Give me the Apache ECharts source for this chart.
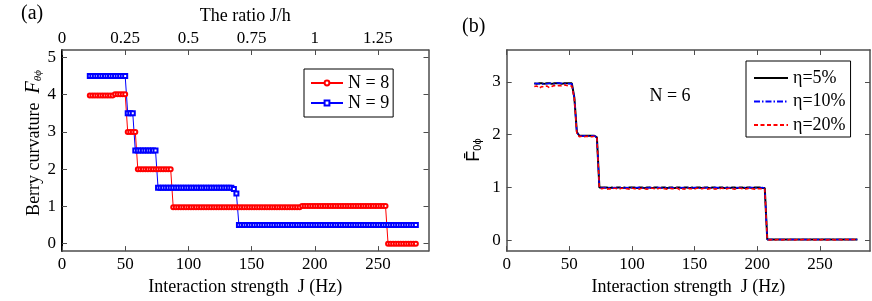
<!DOCTYPE html>
<html><head><meta charset="utf-8">
<script src="https://cdn.jsdelivr.net/npm/echarts@6/dist/echarts.min.js"></script>
<style>html,body{margin:0;padding:0;background:#fff}#c{width:872px;height:301px}</style>
</head><body><div id="c"></div>
<script>
// Interaction strength J (Hz) sampling grid
const jGrid = [22,24,26,28,30,32,34,36,38,40,
 42,44,46,48,50,52,54,56,58,60,
 62,64,66,68,70,72,74,76,78,80,
 82,84,86,88,90,92,94,96,98,100,
 102,104,106,108,110,112,114,116,118,120,
 122,124,126,128,130,132,134,136,138,140,
 142,144,146,148,150,152,154,156,158,160,
 162,164,166,168,170,172,174,176,178,180,
 182,184,186,188,190,192,194,196,198,200,
 202,204,206,208,210,212,214,216,218,220,
 222,224,226,228,230,232,234,236,238,240,
 242,244,246,248,250,252,254,256,258,260,
 262,264,266,268,270,272,274,276,278,280];

// (a) Berry curvature, N = 8
const berryN8 = [3.98,3.98,3.98,3.98,3.98,3.98,3.98,3.98,3.98,3.98,
 4.01,4.01,4.01,4.01,4.01,3,3,3,3,2,
 2,2,2,2,2,2,2,2,2,2,
 2,2,2,0.98,0.98,0.98,0.98,0.98,0.98,0.98,
 0.98,0.98,0.98,0.98,0.98,0.98,0.98,0.98,0.98,0.98,
 0.98,0.98,0.98,0.98,0.98,0.98,0.98,0.98,0.98,0.98,
 0.98,0.98,0.98,0.98,0.98,0.98,0.98,0.98,0.98,0.98,
 0.98,0.98,0.98,0.98,0.98,0.98,0.98,0.98,0.98,0.98,
 0.98,0.98,0.98,0.98,1.01,1.01,1.01,1.01,1.01,1.01,
 1.01,1.01,1.01,1.01,1.01,1.01,1.01,1.01,1.01,1.01,
 1.01,1.01,1.01,1.01,1.01,1.01,1.01,1.01,1.01,1.01,
 1.01,1.01,1.01,1.01,1.01,1.01,1.01,1.01,0,0,
 0,0,0,0,0,0,0,0,0,0];

// (a) Berry curvature, N = 9
const berryN9 = [4.5,4.5,4.5,4.5,4.5,4.5,4.5,4.5,4.5,4.5,
 4.5,4.5,4.5,4.5,4.5,3.5,3.5,3.5,2.5,2.5,
 2.5,2.5,2.5,2.5,2.5,2.5,2.5,1.5,1.5,1.5,
 1.5,1.5,1.5,1.5,1.5,1.5,1.5,1.5,1.5,1.5,
 1.5,1.5,1.5,1.5,1.5,1.5,1.5,1.5,1.5,1.5,
 1.5,1.5,1.5,1.5,1.5,1.5,1.5,1.47,1.35,0.5,
 0.5,0.5,0.5,0.5,0.5,0.5,0.5,0.5,0.5,0.5,
 0.5,0.5,0.5,0.5,0.5,0.5,0.5,0.5,0.5,0.5,
 0.5,0.5,0.5,0.5,0.5,0.5,0.5,0.5,0.5,0.5,
 0.5,0.5,0.5,0.5,0.5,0.5,0.5,0.5,0.5,0.5,
 0.5,0.5,0.5,0.5,0.5,0.5,0.5,0.5,0.5,0.5,
 0.5,0.5,0.5,0.5,0.5,0.5,0.5,0.5,0.5,0.5,
 0.5,0.5,0.5,0.5,0.5,0.5,0.5,0.5,0.5,0.5];

// (b) averaged curvature, N = 6, eta = 5%
const fEta5 = [2.97,2.96,2.97,2.97,2.96,2.97,2.97,2.96,2.97,2.97,
 2.97,2.96,2.97,2.97,2.97,2.97,2.7,2.05,1.98,1.98,
 1.98,1.98,1.98,1.98,1.98,1.95,1,1,1,1,
 0.99,1,0.99,1,1,0.99,1,0.99,1,1,
 1,0.99,1,1,0.99,1,1,0.99,1,1,
 0.99,1,1,0.99,1,1,0.99,1,1,0.99,
 1,1,0.99,1,0.99,1,1,0.99,1,1,
 0.99,1,1,0.99,1,1,0.99,1,0.99,1,
 1,0.99,1,1,0.99,1,1,0.99,1,1,
 1,0.99,0.99,0.02,0.02,0.02,0.02,0.02,0.02,0.02,
 0.02,0.02,0.02,0.02,0.02,0.02,0.02,0.02,0.02,0.02,
 0.02,0.02,0.02,0.02,0.02,0.02,0.02,0.02,0.02,0.02,
 0.02,0.02,0.02,0.02,0.02,0.02,0.02,0.02,0.02,0.02];

// (b) eta = 10%
const fEta10 = [2.96,2.97,2.96,2.95,2.97,2.96,2.97,2.97,2.96,2.98,
 2.97,2.97,2.96,2.97,2.96,2.96,2.69,2.04,1.98,1.97,
 1.98,1.98,1.97,1.98,1.98,1.94,1,0.99,1,0.99,
 1,0.99,1,0.99,1,1,0.99,1,0.99,1,
 0.99,1,1,0.99,1,0.99,1,1,0.99,1,
 1,0.99,1,1,0.99,1,0.99,1,0.99,1,
 0.99,1,1,0.99,1,1,0.99,1,0.99,1,
 1,0.99,1,1,0.99,1,1,0.99,1,0.99,
 0.99,1,0.99,1,1,0.99,1,1,0.99,1,
 0.99,1,0.99,0.02,0.02,0.02,0.02,0.02,0.02,0.02,
 0.02,0.02,0.02,0.02,0.02,0.02,0.02,0.02,0.02,0.02,
 0.02,0.02,0.02,0.02,0.02,0.02,0.02,0.02,0.02,0.02,
 0.02,0.02,0.02,0.02,0.02,0.02,0.02,0.02,0.02,0.02];

// (b) eta = 20%
const fEta20 = [2.91,2.92,2.88,2.91,2.9,2.92,2.89,2.91,2.93,2.92,
 2.93,2.92,2.94,2.93,2.92,2.92,2.68,2.02,1.96,1.97,
 1.96,1.97,1.96,1.96,1.97,1.94,0.99,0.98,0.99,0.97,
 0.98,0.97,0.99,0.98,0.97,0.99,0.98,0.98,0.97,0.99,
 0.98,0.98,0.97,0.99,0.98,0.97,0.98,0.99,0.98,0.97,
 0.99,0.98,0.98,0.97,0.99,0.98,0.98,0.99,0.96,0.98,
 0.97,0.99,0.98,0.98,0.97,0.99,0.98,0.98,0.99,0.97,
 0.98,0.99,0.97,0.98,0.98,0.99,0.97,0.98,0.99,0.98,
 0.97,0.98,0.99,0.98,0.97,0.98,0.99,0.98,0.97,0.98,
 0.98,0.98,0.97,0.02,0.01,0.02,0.01,0.02,0.02,0.01,
 0.02,0.01,0.02,0.02,0.01,0.02,0.01,0.02,0.02,0.01,
 0.02,0.02,0.01,0.02,0.01,0.02,0.02,0.01,0.02,0.02,
 0.01,0.02,0.02,0.01,0.02,0.02,0.01,0.02,0.02,0.01];

const xTicks = [0,50,100,150,200,250];
const ratioTicks = [0,0.25,0.5,0.75,1,1.25];
const ratioLabels = ['0','0.25','0.5','0.75','1','1.25'];
const yTicksA = [0,1,2,3,4,5];
const yTicksB = [0,1,2,3];
const legendA = ['N = 8','N = 9'];
const legendB = ['η=5%','η=10%','η=20%'];

const FONT = 'Liberation Serif';
const AX = '#4d4d4d';
const pairs = arr => jGrid.map((j,i)=>[j, arr[i]]);

function mkAxis(base, ticks, showLabel, extra) {
  const a = {
    type:'value', min: base.min, max: base.max, position: base.position,
    gridIndex: base.grid,
    splitLine:{show:false},
    axisLine:{show:true, onZero:false, lineStyle:{color: base.lineColor||AX, width: base.lineWidth||1.5}},
    axisTick:{show:true, inside:true, length:5, customValues: ticks, lineStyle:{color:AX, width:1}},
    axisLabel:{show: showLabel, customValues: ticks, color:'#000', fontFamily:FONT, fontSize:17, margin: base.margin||5},
  };
  return Object.assign(a, extra||{});
}
const nameStyle = {fontFamily:FONT, fontSize:18, color:'#000'};

const chart = echarts.init(document.getElementById('c'), null, {renderer:'canvas'});
chart.setOption({
  animation:false,
  backgroundColor:'#fff',
  textStyle:{fontFamily:FONT, color:'#000'},
  grid:[
    {left:62, top:50, width:366.5, height:202.7},
    {left:506.7, top:50, width:363.3, height:202.3}
  ],
  xAxis:[
    mkAxis({grid:0, min:0, max:290, position:'bottom', margin:5}, xTicks, true,
      {name:'Interaction strength  J (Hz)', nameLocation:'middle', nameGap:25, nameTextStyle:nameStyle}),
    mkAxis({grid:0, min:0, max:1.45, position:'top', margin:3}, ratioTicks, true,
      {name:'The ratio J/h', nameLocation:'middle', nameGap:25, nameTextStyle:nameStyle}),
    mkAxis({grid:1, min:0, max:290, position:'bottom', margin:5}, xTicks, true,
      {name:'Interaction strength  J (Hz)', nameLocation:'middle', nameGap:25, nameTextStyle:nameStyle}),
    mkAxis({grid:1, min:0, max:290, position:'top'}, xTicks, false)
  ],
  yAxis:[
    mkAxis({grid:0, min:-0.2, max:5.2, position:'left', lineColor:'#000', lineWidth:2, margin:6}, yTicksA, true),
    mkAxis({grid:0, min:-0.2, max:5.2, position:'right'}, yTicksA, false),
    mkAxis({grid:1, min:-0.2, max:3.6, position:'left', margin:6}, yTicksB, true),
    mkAxis({grid:1, min:-0.2, max:3.6, position:'right'}, yTicksB, false)
  ],
  legend:[
    {data:legendA, orient:'vertical', left:304, top:69, padding:[5,4,5,6],
     borderColor:'#000', borderWidth:1, backgroundColor:'#fff',
     itemWidth:32, itemHeight:6, itemGap:2, textStyle:{fontFamily:FONT, fontSize:18, color:'#000'}},
    {data:legendB, orient:'vertical', left:746, top:61, padding:[8,5,3,7],
     borderColor:'#000', borderWidth:1, backgroundColor:'#fff',
     itemWidth:34, itemHeight:10, itemGap:5.5, itemStyle:{opacity:0},
     textStyle:{fontFamily:FONT, fontSize:18, color:'#000'}}
  ],
  series:[
    {name:legendA[0], type:'line', xAxisIndex:0, yAxisIndex:0, data:pairs(berryN8),
     symbol:'emptyCircle', symbolSize:4, showAllSymbol:true,
     lineStyle:{color:'#ff0000', width:1}, itemStyle:{color:'#ff0000', borderWidth:1}},
    {name:legendA[1], type:'line', xAxisIndex:0, yAxisIndex:0, data:pairs(berryN9),
     symbol:'emptyRect', symbolSize:4, showAllSymbol:true,
     lineStyle:{color:'#0000ff', width:1}, itemStyle:{color:'#0000ff', borderWidth:1}},
    {name:legendB[0], type:'line', xAxisIndex:2, yAxisIndex:2, data:pairs(fEta5),
     symbol:'none', lineStyle:{color:'#000', width:2, type:'solid'}, itemStyle:{color:'#000'}},
    {name:legendB[1], type:'line', xAxisIndex:2, yAxisIndex:2, data:pairs(fEta10),
     symbol:'none', lineStyle:{color:'#0000ff', width:1.5, type:[6,2,1.5,2]}, itemStyle:{color:'#0000ff'}},
    {name:legendB[2], type:'line', xAxisIndex:2, yAxisIndex:2, data:pairs(fEta20),
     symbol:'none', lineStyle:{color:'#ff0000', width:1.5, type:[4,2.5]}, itemStyle:{color:'#ff0000'}}
  ],
  graphic:[
    {type:'text', left:21, top:4, style:{text:'(a)', font:"20px 'Liberation Serif', serif", fill:'#000'}},
    {type:'text', left:462, top:17, style:{text:'(b)', font:"20px 'Liberation Serif', serif", fill:'#000'}},
    {type:'text', x:670, y:96, style:{text:'N = 6', align:'center', verticalAlign:'middle', font:"18px 'Liberation Serif', serif", fill:'#000'}},
    {type:'text', x:34, y:143, rotation:Math.PI/2, style:{
      text:'{a|Berry curvature  }{f|F}{s|θϕ}', align:'center', verticalAlign:'middle',
      rich:{
        a:{fontSize:18, fontFamily:FONT, fill:'#000'},
        f:{fontSize:20, fontStyle:'italic', fontFamily:FONT, fill:'#000'},
        s:{fontSize:11, fontStyle:'italic', fontFamily:FONT, fill:'#000', verticalAlign:'bottom'}
      }}},
    {type:'text', x:474, y:150, rotation:Math.PI/2, style:{
      text:'{f|F\u0304}{s|0ϕ}', align:'center', verticalAlign:'middle',
      rich:{
        f:{fontSize:18, fontFamily:'Liberation Sans', fill:'#000'},
        s:{fontSize:11, fontFamily:'Liberation Sans', fill:'#000', verticalAlign:'bottom'}
      }}}
  ]
});
</script></body></html>
